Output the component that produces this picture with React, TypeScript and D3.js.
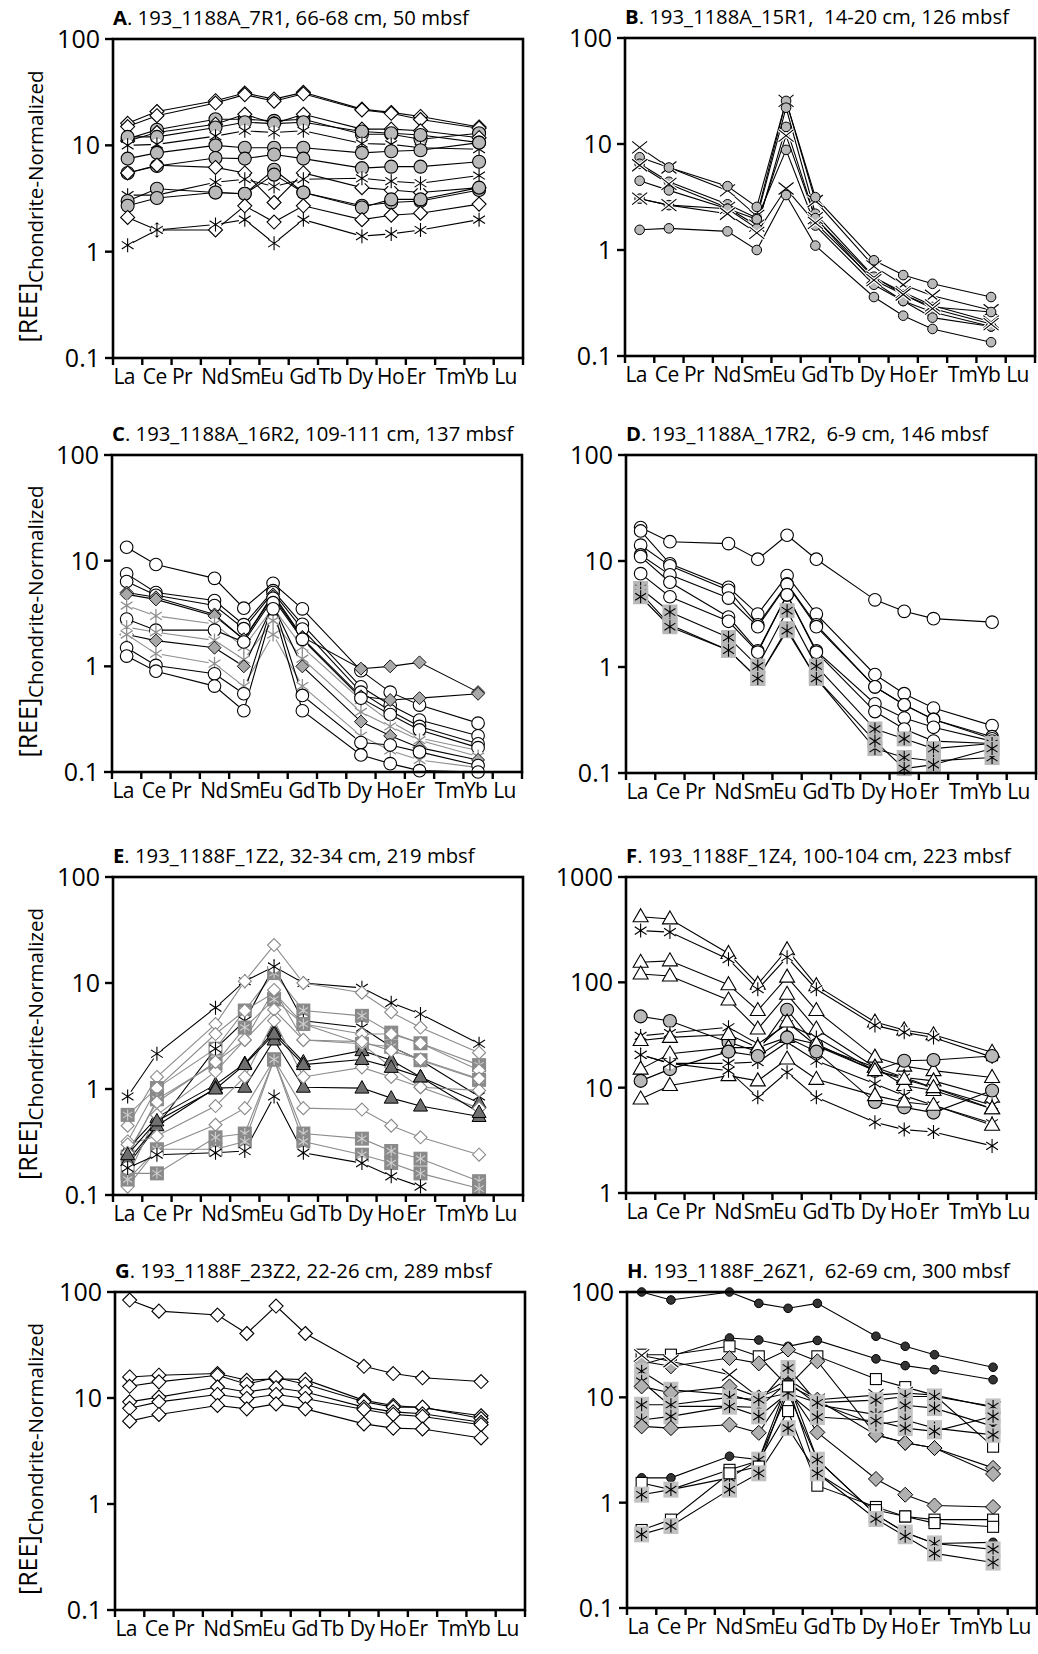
import React from 'react';
import * as d3 from 'd3';

// REE axis categories
const elements = ['La', 'Ce', 'Pr', 'Nd', 'Sm', 'Eu', 'Gd', 'Tb', 'Dy', 'Ho', 'Er', 'Tm', 'Yb', 'Lu'];
// elements actually measured (order of every value array below)
const measured = ['La', 'Ce', 'Nd', 'Sm', 'Eu', 'Gd', 'Dy', 'Ho', 'Er', 'Yb'];

const panelLetters = ['A', 'B', 'C', 'D', 'E', 'F', 'G', 'H'];
const panelTitles = [
  '. 193_1188A_7R1, 66-68 cm, 50 mbsf',
  '. 193_1188A_15R1,  14-20 cm, 126 mbsf',
  '. 193_1188A_16R2, 109-111 cm, 137 mbsf',
  '. 193_1188A_17R2,  6-9 cm, 146 mbsf',
  '. 193_1188F_1Z2, 32-34 cm, 219 mbsf',
  '. 193_1188F_1Z4, 100-104 cm, 223 mbsf',
  '. 193_1188F_23Z2, 22-26 cm, 289 mbsf',
  '. 193_1188F_26Z1,  62-69 cm, 300 mbsf',
];

const ticksDefault = [0.1, 1, 10, 100];
const ticksF = [1, 10, 100, 1000];

// A. 7R1
const markersA = ['diamond', 'diamond', 'circleGray', 'diamond', 'circleGray', 'asterisk', 'circleGray',
  'circleGray', 'diamond', 'asterisk', 'circleGray', 'circleGray', 'diamond', 'asterisk'];
const valuesA = [
  [16.1, 20.8, 26.3, 31, 27.2, 31.5, 21.9, 20.4, 18.7, 14.9],
  [15.0, 19.0, 25.0, 30, 26.0, 30.5, 21.5, 20.0, 17.5, 14.5],
  [11.5, 14.0, 17.6, 17.6, 17.0, 17.6, 12.7, 12.7, 11.4, 13.0],
  [11.0, 13.2, 15.8, 19.6, 16.0, 19.6, 14.2, 14.2, 13.7, 11.8],
  [12.0, 12.0, 14.7, 16.5, 16.0, 16.5, 13.5, 13.0, 12.5, 10.6],
  [10.0, 10.2, 12.2, 13.7, 13.2, 13.7, 10.4, 10.2, 9.5, 9.2],
  [7.5, 8.5, 10.0, 9.5, 9.5, 9.5, 8.5, 8.8, 9.0, 10.6],
  [5.5, 6.4, 7.6, 7.5, 8.2, 7.5, 6.1, 6.3, 6.3, 7.0],
  [5.5, 6.5, 6.2, 5.5, 2.9, 5.5, 4.0, 3.8, 3.6, 4.0],
  [3.4, 3.4, 4.5, 4.8, 4.1, 4.8, 4.9, 4.6, 4.4, 5.2],
  [3.0, 3.9, 3.6, 3.5, 5.9, 3.6, 2.7, 2.9, 3.0, 3.8],
  [2.7, 3.2, 3.6, 3.5, 5.3, 3.6, 2.6, 3.1, 3.1, 4.0],
  [2.1, 1.6, 1.6, 2.7, 1.9, 2.7, 2.0, 2.2, 2.3, 2.8],
  [1.15, 1.6, 1.8, 2.0, 1.2, 2.0, 1.4, 1.47, 1.6, 2.0],
];

// B. 15R1
const markersB = ['x', 'circleSmall', 'circleSmall', 'x', 'circleSmall', 'circleSmall', 'x', 'circleSmall'];
const valuesB = [
  [9.3, 6.0, 3.65, 2.1, 25.5, 2.9, 0.7, 0.47, 0.37, 0.27],
  [7.5, 6.0, 4.0, 2.55, 25.5, 3.15, 0.8, 0.58, 0.48, 0.36],
  [6.5, 4.4, 2.7, 2.0, 22, 2.2, 0.56, 0.38, 0.29, 0.26],
  [6.3, 4.2, 2.5, 1.7, 12, 2.0, 0.55, 0.4, 0.3, 0.21],
  [4.5, 3.65, 2.45, 1.6, 14.5, 2.0, 0.5, 0.33, 0.26, 0.19],
  [3.05, 2.65, 2.45, 1.95, 8.8, 1.7, 0.47, 0.33, 0.23, 0.19],
  [3.05, 2.65, 2.2, 1.45, 3.8, 1.8, 0.52, 0.38, 0.28, 0.2],
  [1.55, 1.6, 1.5, 1.0, 3.3, 1.1, 0.36, 0.24, 0.18, 0.135],
];

// C. 16R2
const markersC = ['circleOpen', 'circleOpen', 'circleOpen', 'diamondGray', 'diamondGray', 'asteriskGray',
  'circleOpen', 'asteriskGray', 'diamondGray', 'asteriskGray', 'circleOpen', 'circleOpen'];
const valuesC = [
  [13.4, 9.2, 6.8, 3.55, 6.1, 3.5, 0.91, 0.57, 0.43, 0.29],
  [7.5, 5.0, 4.2, 2.48, 5.2, 2.5, 0.64, 0.43, 0.31, 0.22],
  [6.35, 4.7, 3.76, 2.27, 5.0, 2.25, 0.57, 0.38, 0.27, 0.185],
  [5.0, 4.5, 3.1, 1.8, 4.8, 1.9, 0.95, 1.0, 1.09, 0.57],
  [4.8, 4.3, 3.0, 1.8, 4.6, 1.85, 0.52, 0.48, 0.5, 0.55],
  [3.76, 3.0, 2.52, 1.52, 3.6, 1.52, 0.48, 0.3, 0.21, 0.16],
  [2.8, 2.2, 2.2, 1.7, 4.4, 1.8, 0.5, 0.35, 0.25, 0.17],
  [2.35, 2.1, 1.76, 1.16, 2.7, 1.18, 0.37, 0.27, 0.2, 0.14],
  [2.0, 1.75, 1.5, 1.0, 3.8, 1.0, 0.3, 0.22, 0.17, 0.13],
  [2.0, 1.32, 1.06, 0.65, 2.0, 0.65, 0.22, 0.16, 0.13, 0.11],
  [1.5, 1.02, 0.85, 0.55, 4.0, 0.53, 0.19, 0.18, 0.155, 0.115],
  [1.25, 0.9, 0.65, 0.38, 3.5, 0.38, 0.145, 0.12, 0.103, 0.1],
];

// D. 17R2
const markersD = ['circleOpen', 'circleOpen', 'circleOpen', 'circleOpen', 'circleOpen', 'circleOpen',
  'asteriskSq', 'asteriskSq', 'asteriskSq'];
const valuesD = [
  [20.7, 15.2, 14.6, 10.4, 17.5, 10.4, 4.3, 3.35, 2.86, 2.65],
  [19.2, 9.4, 5.65, 3.16, 7.3, 3.16, 0.85, 0.56, 0.41, 0.28],
  [14.1, 9.0, 5.3, 2.5, 6.1, 2.5, 0.65, 0.44, 0.32, 0.22],
  [11.4, 7.4, 4.47, 2.4, 6.0, 2.4, 0.65, 0.44, 0.32, 0.21],
  [11.0, 6.3, 2.96, 1.42, 4.8, 1.42, 0.45, 0.33, 0.27, 0.2],
  [7.6, 4.6, 2.7, 1.38, 4.8, 1.38, 0.38, 0.26, 0.2, 0.19],
  [5.5, 3.3, 1.9, 1.02, 3.4, 1.02, 0.26, 0.21, 0.17, 0.19],
  [5.0, 2.5, 1.44, 0.78, 2.3, 0.78, 0.17, 0.14, 0.13, 0.14],
  [4.6, 2.4, 1.44, 0.78, 2.2, 0.78, 0.2, 0.11, 0.12, 0.17],
];

// E. 1Z2
const markersE = ['asteriskBlack', 'diamondE', 'squareE', 'asteriskBlack', 'diamondE', 'squareE', 'triDark',
  'diamondE', 'triDark', 'diamondE', 'diamondE', 'squareE', 'squareE', 'asteriskBlack', 'diamondE', 'triDark'];
const valuesE: (number | null)[][] = [
  [0.85, 2.15, 5.85, 10.4, 14.3, 10, 9.0, 6.5, 5.1, 2.67],
  [0.45, 1.3, 4.1, 10.4, 22.8, 10, 8.1, 5.3, 3.8, 2.2],
  [0.57, 1.02, 2.4, 5.5, 12.4, 5.5, 4.9, 3.4, 2.7, 1.68],
  [0.19, 0.45, 2.4, 4.4, 14.3, 4.4, 3.8, 2.5, 1.87, 0.85],
  [0.32, 1.02, 3.3, 5.5, 8.1, 4.1, 3.3, 3.3, 2.7, 1.5],
  [0.23, 0.8, 1.74, 3.8, 7.0, 4.1, 2.67, 2.5, 1.87, 1.22],
  [0.27, 0.54, 1.1, 1.74, 3.5, 1.8, 2.3, 1.87, 1.3, 0.74],
  [0.15, 0.57, 1.46, 2.9, 5.6, 2.9, 2.67, 1.6, 1.04, 0.97],
  [0.21, 0.45, 1.02, 1.04, 2.9, 1.04, 1.02, 0.82, 0.69, 0.55],
  [0.3, 0.36, 0.69, 1.3, 4.4, 1.3, 1.6, 1.3, 1.04, 0.66],
  [0.12, 0.27, 0.46, 0.66, 1.9, 0.66, 0.64, 0.45, 0.35, 0.24],
  [0.16, 0.16, 0.35, 0.38, 1.9, 0.38, 0.34, 0.26, 0.22, 0.135],
  [0.14, 0.27, 0.27, 0.32, 1.9, 0.32, 0.24, 0.2, 0.16, 0.115],
  [0.18, 0.24, 0.25, 0.26, 0.85, 0.25, 0.2, 0.15, 0.12, null],
  [0.25, 0.75, 1.8, 2.9, 8.6, 2.9, 2.8, 2.3, 1.9, 1.25],
  [0.24, 0.5, 1.0, 1.7, 3.3, 1.7, 1.9, 1.6, 1.3, 0.6],
];

// F. 1Z4
const markersF = ['triOpen', 'asterisk', 'triOpen', 'triOpen', 'circleGray', 'asterisk', 'triOpen',
  'asterisk', 'triOpen', 'circleGray', 'triOpen', 'asterisk'];
const valuesF = [
  [420, 400, 188, 96, 204, 93, 42, 35.3, 31.8, 21.7],
  [310, 300, 166, 86, 173, 86, 39, 33.5, 30, 19.5],
  [155, 160, 95, 54, 112, 54, 19.5, 16, 14.5, 12.5],
  [120, 115, 68, 36, 77, 36, 15.6, 12.5, 11.6, 8.1],
  [47.5, 43, 27, 22, 55, 25, 14.5, 18, 18.3, 20],
  [31, 33, 37.5, 26, 40, 30, 14.5, 12.5, 10, 6.8],
  [28, 30, 32, 24, 42, 25, 15.6, 10.5, 9.4, 6.3],
  [20.5, 17, 17, 17.5, 27, 18, 10.9, 8.4, 6.8, 4.6],
  [15, 21, 24, 24, 30, 26, 14.5, 12, 10, 6.3],
  [11.6, 15, 22, 20, 30, 22, 7.3, 6.5, 5.8, 9.4],
  [7.8, 10.5, 13, 11.6, 18.7, 12, 8.4, 7.3, 6.8, 4.4],
  [20.5, 17, 14.5, 8.1, 14, 8.1, 4.7, 4.0, 3.8, 2.8],
];

// G. 23Z2
const markersG = ['diamond', 'diamond', 'diamond', 'diamond', 'diamond', 'diamond'];
const valuesG = [
  [84, 66, 60.6, 40.6, 73.7, 40.6, 19.9, 17, 15.5, 14.3],
  [15.8, 16.4, 17, 14.7, 15.2, 14.9, 9.5, 8.5, 8.1, 6.8],
  [12.9, 14.2, 16.4, 13.5, 15.6, 13.5, 9.2, 8.2, 8.2, 6.4],
  [9.2, 10.2, 12.7, 11.4, 12.5, 11.4, 8.2, 7.4, 7.1, 5.9],
  [8.0, 9.2, 10.8, 9.9, 10.8, 9.9, 7.8, 7.0, 6.7, 5.6],
  [6.05, 7.0, 8.5, 7.9, 8.8, 7.9, 5.7, 5.2, 5.1, 4.2],
];

// H. 26Z1
const markersH = ['dot', 'dot', 'squareOpen', 'diamondH', 'x', 'asteriskSqH', 'asteriskSqH', 'diamondH',
  'asteriskSqH', 'asteriskSqH', 'diamondH', 'dot', 'squareOpen', 'asteriskSqH', 'squareOpen', 'asteriskSqH'];
const valuesH = [
  [100, 84, 100, 78, 70, 78, 38, 30.5, 25.4, 19.3],
  [20.4, 24.5, 36.6, 35, 30.5, 34.7, 23.2, 20, 18.3, 14.7],
  [25.4, 25.4, 30.5, 24.5, 12.7, 24.5, 14.9, 12.5, 10.5, 3.4],
  [22, 19.7, 23.6, 21, 28.4, 22, 4.4, 3.7, 3.3, 2.14],
  [25, 22, 16.4, 10, 15, 9.5, 10.5, 11, 10.5, 8],
  [17.7, 11.8, 10.6, 8.9, 19, 8.9, 9.4, 10.2, 10.2, 8.2],
  [14.2, 8.2, 8.2, 8.0, 14, 8.5, 6.85, 8.4, 7.9, 5.3],
  [12.7, 11, 12.7, 10, 13, 9.5, 4.4, 3.7, 3.3, 1.87],
  [8.5, 8.5, 10, 9.5, 11, 8.9, 5.5, 6.1, 5.1, 4.4],
  [6.1, 6.6, 8.2, 6.6, 11, 6.5, 6.0, 5.1, 4.75, 6.6],
  [5.3, 5.1, 5.5, 4.6, 12, 4.65, 1.68, 1.19, 0.94, 0.91],
  [1.72, 1.72, 2.76, 2.56, 14, 2.56, 0.77, 0.52, 0.41, 0.42],
  [1.54, 1.33, 2.05, 2.5, 7.4, 1.45, 0.91, 0.74, 0.69, 0.69],
  [1.19, 1.33, 1.72, 2.56, 11, 2.56, 0.77, 0.52, 0.41, 0.36],
  [0.55, 0.69, 1.9, 2.2, 12.7, 1.9, 0.85, 0.74, 0.64, 0.59],
  [0.5, 0.6, 1.33, 1.9, 5.1, 1.9, 0.7, 0.48, 0.33, 0.27],
];

const allMarkers = [markersA, markersB, markersC, markersD, markersE, markersF, markersG, markersH];
const allValues: (number | null)[][][] = [valuesA, valuesB, valuesC, valuesD, valuesE, valuesF, valuesG, valuesH];

// layout
const panelLeft = [113, 625, 112, 626, 113, 626, 115, 627];
const panelTop = [39, 38, 455, 455, 877, 877, 1292, 1292];
const panelBottom = [358, 356, 772, 773, 1195, 1193, 1610, 1608];
const plotWidth = 410;
const font = "'Open Sans', 'Noto Sans', sans-serif";

const star = (cx: number, cy: number, r: number) => {
  const a = r * 0.84, b = r * 0.55;
  return `M${cx},${cy - r}L${cx},${cy + r}M${cx - a},${cy - b}L${cx + a},${cy + b}M${cx - a},${cy + b}L${cx + a},${cy - b}`;
};
const cross = (cx: number, cy: number, r: number) =>
  `M${cx - r},${cy - r * 0.8}L${cx + r},${cy + r * 0.8}M${cx - r},${cy + r * 0.8}L${cx + r},${cy - r * 0.8}`;
const diamondPath = (cx: number, cy: number, r: number) =>
  `M${cx},${cy - r}L${cx + r},${cy}L${cx},${cy + r}L${cx - r},${cy}Z`;

function lineColor(kind: string) {
  if (kind === 'asteriskGray') return '#8f8f8f';
  if (kind === 'diamondE' || kind === 'squareE') return '#8c8c8c';
  return '#000';
}

function Marker({ kind, cx, cy }: { kind: string; cx: number; cy: number }) {
  switch (kind) {
    case 'diamond':
      return <path d={diamondPath(cx, cy, 7)} fill="#fff" stroke="#000" strokeWidth={1.1} />;
    case 'diamondGray':
      return <path d={diamondPath(cx, cy, 6.5)} fill="#a8a8a8" stroke="#000" strokeWidth={0.9} />;
    case 'diamondH':
      return <path d={diamondPath(cx, cy, 7.5)} fill="#b0b0b0" stroke="#000" strokeWidth={1} />;
    case 'diamondE':
      return <path d={diamondPath(cx, cy, 6.5)} fill="#fff" stroke="#8a8a8a" strokeWidth={1.1} />;
    case 'circleGray':
      return <circle cx={cx} cy={cy} r={6.5} fill="#b9b9b9" stroke="#000" strokeWidth={1.1} />;
    case 'circleSmall':
      return <circle cx={cx} cy={cy} r={4.8} fill="#b9b9b9" stroke="#000" strokeWidth={1} />;
    case 'circleOpen':
      return <circle cx={cx} cy={cy} r={6.3} fill="#fff" stroke="#000" strokeWidth={1.1} />;
    case 'dot':
      return <circle cx={cx} cy={cy} r={4.3} fill="#333" stroke="#000" strokeWidth={1} />;
    case 'squareOpen':
      return <rect x={cx - 5.5} y={cy - 5.5} width={11} height={11} fill="#fff" stroke="#000" strokeWidth={1.1} />;
    case 'triOpen':
      return <path d={`M${cx},${cy - 8}L${cx + 7.5},${cy + 5}L${cx - 7.5},${cy + 5}Z`} fill="#fff" stroke="#000" strokeWidth={1.1} />;
    case 'triDark':
      return <path d={`M${cx},${cy - 7.5}L${cx + 7},${cy + 5}L${cx - 7},${cy + 5}Z`} fill="#6f6f6f" stroke="#000" strokeWidth={1} />;
    case 'x':
      return (
        <g>
          <path d={cross(cx, cy, 7.5)} stroke="#fff" strokeWidth={3.5} fill="none" />
          <path d={cross(cx, cy, 7.5)} stroke="#000" strokeWidth={1.1} fill="none" />
        </g>
      );
    case 'asterisk':
    case 'asteriskBlack':
      return (
        <g>
          <circle cx={cx} cy={cy} r={6} fill="#fff" />
          <path d={star(cx, cy, 7)} stroke="#000" strokeWidth={1.1} fill="none" />
        </g>
      );
    case 'asteriskGray':
      return (
        <g>
          <circle cx={cx} cy={cy} r={6} fill="#fff" />
          <path d={star(cx, cy, 7)} stroke="#8f8f8f" strokeWidth={1.3} fill="none" />
        </g>
      );
    case 'asteriskSq':
      return (
        <g>
          <rect x={cx - 7.5} y={cy - 7.5} width={15} height={15} fill="#b8b8b8" />
          <path d={star(cx, cy, 6.5)} stroke="#000" strokeWidth={1.1} fill="none" />
        </g>
      );
    case 'asteriskSqH':
      return (
        <g>
          <rect x={cx - 7.5} y={cy - 8} width={15} height={16} fill="#c2c2c2" />
          <path d={star(cx, cy, 6.5)} stroke="#000" strokeWidth={1.1} fill="none" />
        </g>
      );
    case 'squareE':
      return (
        <g>
          <rect x={cx - 7} y={cy - 7} width={14} height={14} fill="#8a8a8a" />
          <path d={star(cx, cy, 5.5)} stroke="#cfcfcf" strokeWidth={1.1} fill="none" />
        </g>
      );
    default:
      return null;
  }
}

function Panel({ idx }: { idx: number }) {
  const left = panelLeft[idx];
  const top = panelTop[idx];
  const bottom = panelBottom[idx];
  const ticks = idx === 5 ? ticksF : ticksDefault;
  const x = d3.scaleLinear().domain([0, elements.length]).range([left, left + plotWidth]);
  const y = d3.scaleLog().domain([ticks[0], ticks[ticks.length - 1]]).range([bottom, top]);
  const px = (i: number) => x(elements.indexOf(measured[i]) + 0.5);
  const line = d3.line<number | null>()
    .defined((d) => d != null)
    .x((_, i) => px(i))
    .y((d) => y(d as number));
  const markers = allMarkers[idx];
  const values = allValues[idx];
  const isLeft = idx % 2 === 0;
  const cy = (top + bottom) / 2 + 8;

  return (
    <g>
      <text x={left} y={top - 14} fontSize={20.3} fontFamily={font} style={{ whiteSpace: 'pre' }}>
        <tspan fontWeight="bold">{panelLetters[idx]}</tspan>
        {panelTitles[idx]}
      </text>
      {isLeft && (
        <text transform={`translate(37,${cy}) rotate(-90)`} textAnchor="middle" fontFamily={font}>
          <tspan fontSize={25}>[REE]</tspan>
          <tspan fontSize={20.5} dy={6}>Chondrite-Normalized</tspan>
        </text>
      )}
      {values.map((vals, s) => (
        <path key={`l${s}`} d={line(vals) || ''} fill="none" stroke={lineColor(markers[s])} strokeWidth={1.1} />
      ))}
      {values.map((vals, s) =>
        vals.map((v, i) =>
          v == null ? null : <Marker key={`m${s}-${i}`} kind={markers[s]} cx={px(i)} cy={y(v)} />
        )
      )}
      <rect x={left} y={top} width={plotWidth} height={bottom - top} fill="none" stroke="#000" strokeWidth={2.6} />
      {ticks.map((t) => (
        <g key={`yt${t}`}>
          <line x1={left - 8} x2={left} y1={y(t)} y2={y(t)} stroke="#000" strokeWidth={2.4} />
          <text x={left - 13} y={y(t)} dy="0.36em" textAnchor="end" fontSize={25} fontFamily={font}>
            {String(t)}
          </text>
        </g>
      ))}
      {d3.range(elements.length + 1).map((i) => (
        <line key={`xt${i}`} x1={x(i)} x2={x(i)} y1={bottom} y2={bottom + 7} stroke="#000" strokeWidth={2.4} />
      ))}
      {elements.map((el, i) => (
        <text key={`xl${el}`} x={x(i) + 0.5} y={bottom + 26} fontSize={21} letterSpacing={-0.6} fontFamily={font}>
          {el}
        </text>
      ))}
    </g>
  );
}

export default function App() {
  return (
    <svg width={1038} height={1654} style={{ position: 'absolute', left: 0, top: 0, background: '#fff' }}>
      <rect width={1038} height={1654} fill="#fff" />
      {d3.range(8).map((i) => (
        <Panel key={i} idx={i} />
      ))}
    </svg>
  );
}
